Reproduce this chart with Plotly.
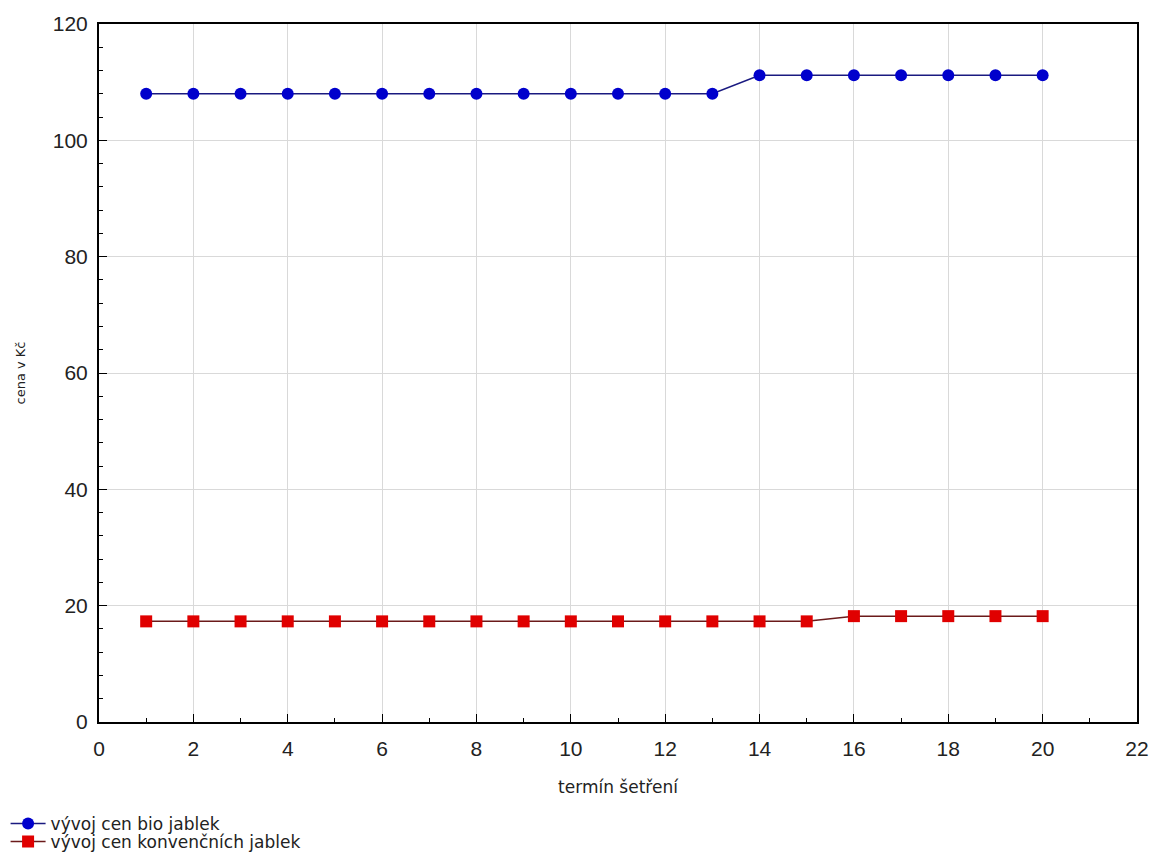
import plotly.graph_objects as go

termin = list(range(1, 21))
bio = [108.0]*13 + [111.2]*7
konv = [17.3]*15 + [18.2]*5

names = ["vývoj cen bio jablek", "vývoj cen konvenčních jablek"]
x_title = "termín šetření"
y_title = "cena v Kč"

FONT = "Liberation Sans, Arial"
WIDE = "DejaVu Sans, Verdana"

fig = go.Figure()
fig.add_trace(go.Scatter(x=termin, y=bio, mode="lines+markers", name=names[0],
                         line=dict(color="#1a1a80", width=1.5),
                         marker=dict(symbol="circle", size=12, color="#0000cc",
                                     line=dict(width=0)),
                         legend="legend"))
fig.add_trace(go.Scatter(x=termin, y=konv, mode="lines+markers", name=names[1],
                         line=dict(color="#6b1a1a", width=1.5),
                         marker=dict(symbol="square", size=12, color="#e00000",
                                     line=dict(width=0)),
                         legend="legend2"))

axis_common = dict(showline=True, linecolor="black", linewidth=2, mirror=True,
                   showgrid=True, gridcolor="#d9d9d9", gridwidth=1,
                   ticks="inside", ticklen=8, tickcolor="black", zeroline=False,
                   automargin=False,
                   tickfont=dict(family=FONT, size=21, color="#222"))

fig.update_xaxes(range=[0, 22], dtick=2, tick0=0, ticklabelstandoff=7,
                 minor=dict(dtick=1, ticks="inside", ticklen=4, tickcolor="black", showgrid=False),
                 title=dict(text=x_title, font=dict(family=WIDE, size=17, color="#222"), standoff=22),
                 **axis_common)
fig.update_yaxes(range=[0, 120], dtick=20, tick0=0, ticklabelstandoff=5,
                 minor=dict(dtick=4, ticks="inside", ticklen=4, tickcolor="black", showgrid=False),
                 title=dict(text=y_title, font=dict(family=WIDE, size=13, color="#222"), standoff=24),
                 **axis_common)

leg_common = dict(x=-0.090, xanchor="left", yanchor="middle",
                  font=dict(family=WIDE, size=17, color="#222"),
                  bgcolor="rgba(0,0,0,0)", itemwidth=35)

fig.update_layout(width=1153, height=852,
                  margin=dict(l=99, r=16, t=24, b=130, autoexpand=False),
                  plot_bgcolor="white", paper_bgcolor="white",
                  showlegend=True,
                  legend=dict(y=-0.1461, **leg_common),
                  legend2=dict(y=-0.1719, **leg_common))

fig.write_html("out.html", config={"displayModeBar": False},
               post_script="document.body.style.margin='0';document.body.style.overflow='hidden';")
